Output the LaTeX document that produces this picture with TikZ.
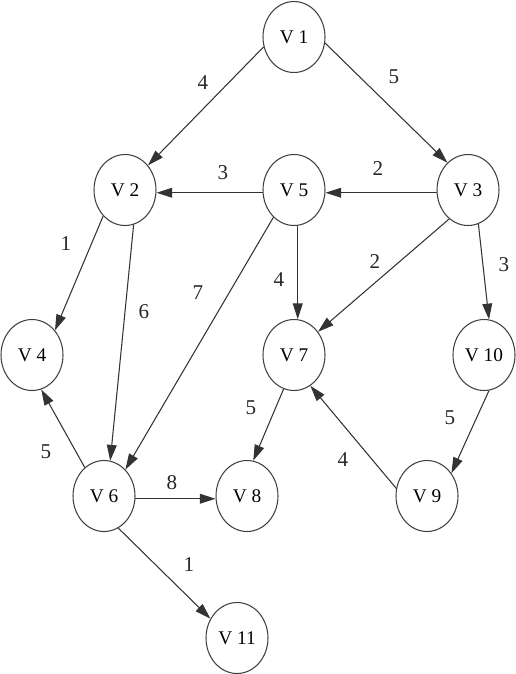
\documentclass[tikz,border=0pt]{standalone}
\usepackage{fontspec}
\setmainfont{Liberation Serif}
\usetikzlibrary{shapes.geometric,arrows.meta}

\tikzset{
  vtx/.style={ellipse, draw=black!75, line width=0.6pt, minimum width=1.24cm,
    minimum height=1.42cm, inner sep=0pt, font=\fontsize{11}{13}\selectfont},
  arc/.style={draw=black!80, line width=0.6pt, -{Triangle[length=9pt,width=5.6pt]}},
  wt/.style={font=\fontsize{12}{14}\selectfont, text=black!85}
}

\begin{document}
\begin{tikzpicture}[x=0.02cm, y=-0.02cm]
  % frame of the reference (pixel units, y downward)
  \useasboundingbox (0,0) rectangle (515,674);

  % --- vertices ---
  \node[vtx] (v1)  at (294,37)  {V 1};
  \node[vtx] (v2)  at (125,190) {V 2};
  \node[vtx] (v5)  at (294,190) {V 5};
  \node[vtx] (v3)  at (468,190) {V 3};
  \node[vtx] (v4)  at (32,355)  {V 4};
  \node[vtx] (v7)  at (294,355) {V 7};
  \node[vtx] (v10) at (484,355) {V 10};
  \node[vtx] (v6)  at (104,496) {V 6};
  \node[vtx] (v8)  at (247,496) {V 8};
  \node[vtx] (v9)  at (427,496) {V 9};
  \node[vtx] (v11) at (237,638) {V 11};

  % --- arcs ---
  \draw[arc] (v1.198) -- (v2.47);
  \draw[arc] (v1.-11) -- (v3.127);
  \draw[arc] (v5.185) -- (v2.-5);
  \draw[arc] (v3.185) -- (v5.-5);
  \draw[arc] (v2.230) -- (v4.47);
  \draw[arc] (v2.-76) -- (v6.80);
  \draw[arc] (v5.233) -- (v6.51);
  \draw[arc] (v5.-84) -- (v7.84);
  \draw[arc] (v3.237) -- (v7.44);
  \draw[arc] (v3.-73) -- (v10.82);
  \draw[arc] (v10.-82) -- (v9.43);
  \draw[arc] (v9.166) -- (v7.-62);
  \draw[arc] (v7.253) -- (v8.80);
  \draw[arc] (v6.124) -- (v4.-75);
  \draw[arc] (v6.-5) -- (v8.185);
  \draw[arc] (v6.-66) -- (v11.144);

  % --- weights ---
  \node[wt] (w12)  at (203,83)  {4};
  \node[wt] (w13)  at (394,77)  {5};
  \node[wt] (w52)  at (223,173) {3};
  \node[wt] (w35)  at (378,169) {2};
  \node[wt] (w24)  at (66,244)  {1};
  \node[wt] (w310) at (504,265) {3};
  \node[wt] (w37)  at (375,262) {2};
  \node[wt] (w57)  at (279,280) {4};
  \node[wt] (w56)  at (198,293) {7};
  \node[wt] (w26)  at (144,312) {6};
  \node[wt] (w78)  at (251,408) {5};
  \node[wt] (w109) at (450,418) {5};
  \node[wt] (w97)  at (343,460) {4};
  \node[wt] (w64)  at (46,452)  {5};
  \node[wt] (w68)  at (172,483) {8};
  \node[wt] (w611) at (189,565) {1};
\end{tikzpicture}
\end{document}
